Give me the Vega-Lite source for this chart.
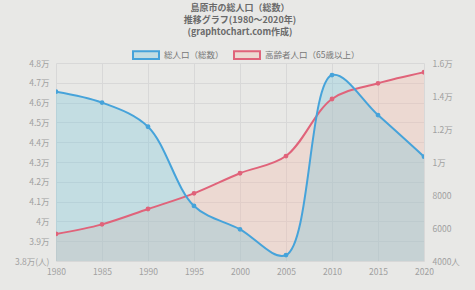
{
  "$schema": "https://vega.github.io/schema/vega-lite/v6.json",
  "width": 368,
  "height": 198,
  "autosize": {"type": "none"},
  "padding": {"left": 56, "top": 63, "right": 51, "bottom": 29},
  "background": "#e8e8e6",
  "config": {"view": {"stroke": null}, "font": "Noto Sans CJK JP"},
  "title": {
    "text": ["島原市の総人口（総数）", "推移グラフ(1980～2020年)", "(graphtochart.com作成)"],
    "fontSize": 9,
    "fontWeight": "bold",
    "color": "#6a6a6a",
    "lineHeight": 12,
    "anchor": "middle",
    "offset": 4
  },
  "data": {
    "values": [
      {"year": 1980, "series": "総人口（総数）", "value": 46550},
      {"year": 1985, "series": "総人口（総数）", "value": 46000},
      {"year": 1990, "series": "総人口（総数）", "value": 44780},
      {"year": 1995, "series": "総人口（総数）", "value": 40780},
      {"year": 2000, "series": "総人口（総数）", "value": 39600},
      {"year": 2005, "series": "総人口（総数）", "value": 38300},
      {"year": 2010, "series": "総人口（総数）", "value": 47390},
      {"year": 2015, "series": "総人口（総数）", "value": 45370},
      {"year": 2020, "series": "総人口（総数）", "value": 43270},
      {"year": 1980, "series": "高齢者人口（65歳以上）", "value": 5640},
      {"year": 1985, "series": "高齢者人口（65歳以上）", "value": 6220},
      {"year": 1990, "series": "高齢者人口（65歳以上）", "value": 7150},
      {"year": 1995, "series": "高齢者人口（65歳以上）", "value": 8100},
      {"year": 2000, "series": "高齢者人口（65歳以上）", "value": 9320},
      {"year": 2005, "series": "高齢者人口（65歳以上）", "value": 10360},
      {"year": 2010, "series": "高齢者人口（65歳以上）", "value": 13820},
      {"year": 2015, "series": "高齢者人口（65歳以上）", "value": 14770},
      {"year": 2020, "series": "高齢者人口（65歳以上）", "value": 15440}
    ]
  },
  "encoding": {
    "x": {
      "field": "year",
      "type": "quantitative",
      "scale": {"domain": [1980, 2020], "nice": false, "zero": false},
      "axis": {
        "values": [1980, 1985, 1990, 1995, 2000, 2005, 2010, 2015, 2020],
        "format": "d",
        "title": null,
        "ticks": false,
        "domain": false,
        "labelColor": "#a0a0a0",
        "labelFontSize": 8.5,
        "labelPadding": 6,
        "grid": true,
        "gridColor": "#d8d8d8",
        "labelFlush": false
      }
    }
  },
  "layer": [
    {
      "transform": [{"filter": "datum.series == '高齢者人口（65歳以上）'"}],
      "mark": {"type": "area", "interpolate": "catmull-rom", "clip": true},
      "encoding": {
        "y": {
          "field": "value",
          "type": "quantitative",
          "scale": {"domain": [4000, 16000], "nice": false, "zero": false},
          "axis": {
            "orient": "right",
            "title": null,
            "values": [4000, 6000, 8000, 10000, 12000, 14000, 16000],
            "labelExpr": "datum.value == 4000 ? '4000人' : (datum.value >= 10000 ? (datum.value / 10000) + '万' : '' + datum.value)",
            "ticks": false,
            "domain": false,
            "grid": false,
            "labelColor": "#a0a0a0",
            "labelFontSize": 8.5,
            "labelPadding": 8
          }
        },
        "fill": {
          "field": "series",
          "type": "nominal",
          "scale": {
            "domain": ["総人口（総数）", "高齢者人口（65歳以上）"],
            "range": ["rgba(110,195,220,0.3)", "rgba(245,182,167,0.3)"]
          },
          "legend": {
            "title": null,
            "orient": "none",
            "legendX": 76,
            "legendY": -22,
            "direction": "horizontal",
            "symbolType": "M-1,-0.3H1V0.3H-1Z",
            "symbolSize": 676,
            "symbolStrokeWidth": 2,
            "labelFontSize": 8.5,
            "labelColor": "#777777",
            "columnPadding": 6,
            "labelOffset": 4,
            "padding": 0
          }
        }
      }
    },
    {
      "transform": [{"filter": "datum.series == '総人口（総数）'"}],
      "mark": {"type": "area", "interpolate": "catmull-rom", "clip": true},
      "encoding": {
        "y": {
          "field": "value",
          "type": "quantitative",
          "scale": {"domain": [38000, 48000], "nice": false, "zero": false},
          "axis": {
            "orient": "left",
            "title": null,
            "values": [38000, 39000, 40000, 41000, 42000, 43000, 44000, 45000, 46000, 47000, 48000],
            "labelExpr": "datum.value == 38000 ? '3.8万(人)' : (datum.value / 10000) + '万'",
            "ticks": false,
            "domain": false,
            "grid": true,
            "gridColor": "#d8d8d8",
            "labelColor": "#a0a0a0",
            "labelFontSize": 8.5,
            "labelPadding": 7
          }
        },
        "fill": {
          "field": "series",
          "type": "nominal",
          "scale": {
            "domain": ["総人口（総数）", "高齢者人口（65歳以上）"],
            "range": ["rgba(110,195,220,0.3)", "rgba(245,182,167,0.3)"]
          }
        }
      }
    },
    {
      "transform": [{"filter": "datum.series == '高齢者人口（65歳以上）'"}],
      "mark": {"type": "line", "interpolate": "catmull-rom", "strokeWidth": 2, "clip": true, "point": {"filled": true, "size": 8, "color": "#e0637a"}},
      "encoding": {
        "y": {
          "field": "value",
          "type": "quantitative",
          "scale": {"domain": [4000, 16000], "nice": false, "zero": false},
          "axis": null
        },
        "stroke": {
          "field": "series",
          "type": "nominal",
          "scale": {
            "domain": ["総人口（総数）", "高齢者人口（65歳以上）"],
            "range": ["#46a3da", "#e0637a"]
          },
          "legend": {
            "title": null,
            "orient": "none",
            "legendX": 76,
            "legendY": -22,
            "direction": "horizontal",
            "symbolType": "M-1,-0.3H1V0.3H-1Z",
            "symbolSize": 676,
            "symbolStrokeWidth": 2,
            "labelFontSize": 8.5,
            "labelColor": "#777777",
            "columnPadding": 6,
            "labelOffset": 4,
            "padding": 0
          }
        }
      }
    },
    {
      "transform": [{"filter": "datum.series == '総人口（総数）'"}],
      "mark": {"type": "line", "interpolate": "catmull-rom", "strokeWidth": 2, "clip": true, "point": {"filled": true, "size": 8, "color": "#46a3da"}},
      "encoding": {
        "y": {
          "field": "value",
          "type": "quantitative",
          "scale": {"domain": [38000, 48000], "nice": false, "zero": false},
          "axis": null
        },
        "stroke": {
          "field": "series",
          "type": "nominal",
          "scale": {
            "domain": ["総人口（総数）", "高齢者人口（65歳以上）"],
            "range": ["#46a3da", "#e0637a"]
          }
        }
      }
    }
  ],
  "resolve": {"scale": {"y": "independent"}}
}
